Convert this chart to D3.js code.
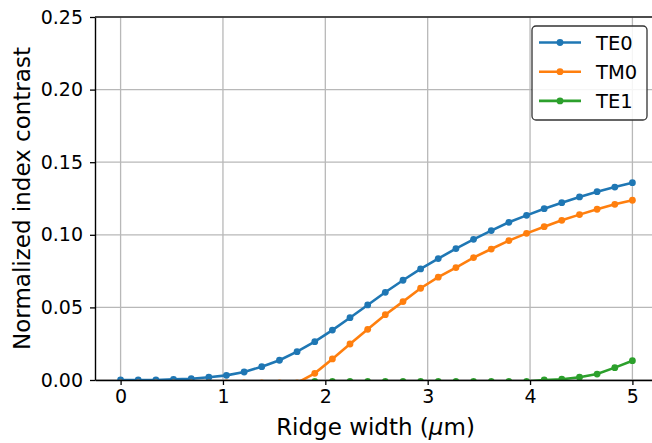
<!DOCTYPE html>
<meta charset="utf-8">
<style>
    body { margin: 0; background: #fff; }
    text { font-family: "DejaVu Sans", sans-serif; fill: #000; }
    .grid line { stroke: #b8b8b8; stroke-width: 1.3px; }
    .line { fill: none; stroke-width: 2.6px; }
</style>

<body>
    <script src="https://d3js.org/d3.v7.min.js"></script>
    <script>
        // ridge widths: 30 samples from 0 to 5 um
        var widths = [0, 0.172, 0.345, 0.517, 0.69, 0.862, 1.034, 1.207, 1.379, 1.552,
            1.724, 1.897, 2.069, 2.241, 2.414, 2.586, 2.759, 2.931, 3.103, 3.276,
            3.448, 3.621, 3.793, 3.966, 4.138, 4.31, 4.483, 4.655, 4.828, 5];

        var te0 = [0, 0, 0, 0.0004, 0.0009, 0.0019, 0.0032, 0.0055, 0.0092, 0.0136,
            0.0195, 0.0264, 0.0344, 0.0429, 0.0517, 0.0604, 0.0687, 0.0765, 0.0836, 0.0905,
            0.0969, 0.1029, 0.1086, 0.1134, 0.118, 0.1221, 0.1261, 0.1297, 0.1329, 0.1359];

        var tm0 = [-0.002, -0.002, -0.002, -0.002, -0.002, -0.002, -0.002, -0.002, -0.002, -0.002,
            -0.002, 0.0046, 0.0145, 0.0248, 0.0349, 0.045, 0.054, 0.0632, 0.0708, 0.0774,
            0.0843, 0.0902, 0.096, 0.101, 0.1056, 0.11, 0.1139, 0.1176, 0.121, 0.1238];

        var te1 = [null, null, null, null, null, null, null, null, null, null,
            null, -0.001, -0.001, -0.001, -0.001, -0.001, -0.001, -0.001, -0.001, -0.001,
            -0.001, -0.001, -0.001, -0.001, 0, 0.0005, 0.0019, 0.0041, 0.0085, 0.0133];

        var seriesNames = ["TE0", "TM0", "TE1"];
        var seriesColors = ["#1f77b4", "#ff7f0e", "#2ca02c"];
        var xTicks = [0, 1, 2, 3, 4, 5];
        var yTicks = [0, 0.05, 0.1, 0.15, 0.2, 0.25];

        var width = 652,
            height = 443,
            margin = { top: 17, right: -6, bottom: 63, left: 95 };

        var svg = d3.select("body").append("svg")
            .attr("width", width)
            .attr("height", height);

        var iw = width - margin.left - margin.right,
            ih = height - margin.top - margin.bottom;

        var x = d3.scaleLinear().domain([-0.25, 5.25]).range([0, iw]),
            y = d3.scaleLinear().domain([0, 0.25]).range([ih, 0]);

        var g = svg.append("g").attr("transform", "translate(" + margin.left + "," + margin.top + ")");

        svg.append("defs").append("clipPath").attr("id", "clip")
            .append("rect").attr("width", iw).attr("height", ih);

        // grid
        var grid = g.append("g").attr("class", "grid");
        grid.selectAll(".gx").data(xTicks).enter().append("line")
            .attr("x1", x).attr("x2", x).attr("y1", 0).attr("y2", ih);
        grid.selectAll(".gy").data(yTicks).enter().append("line")
            .attr("x1", 0).attr("x2", iw).attr("y1", y).attr("y2", y);

        var data = [te0, tm0, te1].map(function(vals, i) {
            return {
                id: seriesNames[i],
                color: seriesColors[i],
                values: widths.map(function(w, j) { return { w: w, v: vals[j] }; })
            };
        });

        var line = d3.line()
            .defined(function(d) { return d.v !== null; })
            .x(function(d) { return x(d.w); })
            .y(function(d) { return y(d.v); });

        var plot = g.append("g").attr("clip-path", "url(#clip)");
        var s = plot.selectAll(".series").data(data).enter().append("g");
        s.append("path")
            .attr("class", "line")
            .attr("d", function(d) { return line(d.values); })
            .style("stroke", function(d) { return d.color; });
        s.selectAll("circle")
            .data(function(d) { return d.values.filter(function(p) { return p.v !== null; }).map(function(p) { p.c = d.color; return p; }); })
            .enter().append("circle")
            .attr("cx", function(d) { return x(d.w); })
            .attr("cy", function(d) { return y(d.v); })
            .attr("r", 3.4)
            .attr("fill", function(d) { return d.c; });

        // axes
        var xAxis = g.append("g")
            .attr("transform", "translate(0," + ih + ")")
            .call(d3.axisBottom(x).tickValues(xTicks).tickFormat(d3.format("d")).tickSize(5).tickSizeOuter(0).tickPadding(5));
        var yAxis = g.append("g")
            .call(d3.axisLeft(y).tickValues(yTicks).tickFormat(d3.format(".2f")).tickSize(5).tickSizeOuter(0).tickPadding(7));
        [xAxis, yAxis].forEach(function(a) {
            a.selectAll("text").style("font-size", "19px").style("font-family", "DejaVu Sans");
            a.selectAll("line").style("stroke", "#000").style("stroke-width", "1.3px");
            a.select(".domain").style("stroke", "#000").style("stroke-width", "1.4px");
        });
        g.append("line").attr("x1", 0).attr("x2", iw).attr("y1", 0).attr("y2", 0)
            .style("stroke", "#222").style("stroke-width", "1.4px");

        svg.append("text")
            .attr("x", margin.left + iw / 2 - 1)
            .attr("y", 435)
            .attr("text-anchor", "middle")
            .style("font-size", "23px")
            .html("Ridge width (<tspan font-style='italic'>μ</tspan>m)");

        svg.append("text")
            .attr("transform", "translate(30," + (margin.top + ih / 2) + ") rotate(-90)")
            .attr("text-anchor", "middle")
            .style("font-size", "23px")
            .text("Normalized index contrast");

        // legend
        var lg = svg.append("g").attr("transform", "translate(532,26)");
        lg.append("rect")
            .attr("width", 115).attr("height", 94).attr("rx", 4)
            .attr("fill", "rgba(255,255,255,0.85)")
            .attr("stroke", "#333").attr("stroke-width", 1.3);
        var item = lg.selectAll(".item").data(data).enter().append("g")
            .attr("transform", function(d, i) { return "translate(0," + (16.5 + i * 29.2) + ")"; });
        item.append("line")
            .attr("x1", 7).attr("x2", 49)
            .attr("stroke", function(d) { return d.color; })
            .attr("stroke-width", 2.6);
        item.append("circle")
            .attr("cx", 28).attr("r", 3.4)
            .attr("fill", function(d) { return d.color; });
        item.append("text")
            .attr("x", 64).attr("dy", "0.36em")
            .style("font-size", "19.5px")
            .text(function(d) { return d.id; });
    </script>
</body>
